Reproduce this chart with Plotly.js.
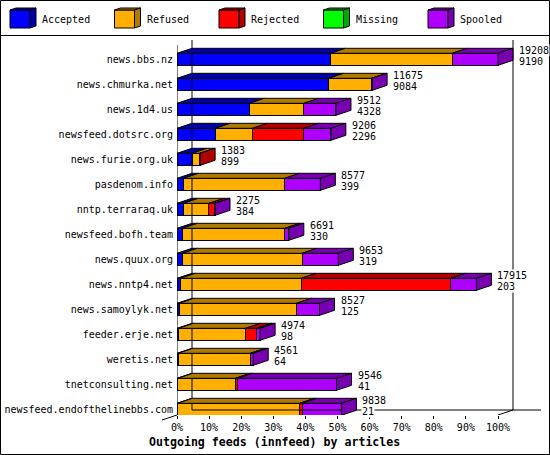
<!DOCTYPE html>
<html><head><meta charset="utf-8">
<script src="https://cdn.plot.ly/plotly-3.0.1.min.js"></script>
<style>html,body{margin:0;padding:0;background:#fff}#chart{width:550px;height:455px}</style>
</head><body><div id="chart"></div>
<script>
const hosts = ["news.bbs.nz","news.chmurka.net","news.1d4.us","newsfeed.dotsrc.org","news.furie.org.uk","pasdenom.info","nntp.terraraq.uk","newsfeed.bofh.team","news.quux.org","news.nntp4.net","news.samoylyk.net","feeder.erje.net","weretis.net","tnetconsulting.net","newsfeed.endofthelinebbs.com"];
const offered  = [19208,11675,9512,9206,1383,8577,2275,6691,9653,17915,8527,4974,4561,9546,9838];
const accepted = [9190,9084,4328,2296,899,399,384,330,319,203,125,98,64,41,21];
const refused  = [7278,2541,3260,2220,455,6040,1530,6121,7163,7217,7020,4010,4317,3447,7318];
const rejected = [0,0,0,3060,29,0,350,0,0,8950,0,665,0,138,144];
const missing  = [0,0,0,0,0,0,0,0,0,0,0,0,0,0,0];
const spooled  = [2740,50,1924,1630,0,2138,11,240,2171,1545,1382,201,180,5920,2355];
const seriesNames = ["Accepted","Refused","Rejected","Missing","Spooled"];
const tickPercents = [0,10,20,30,40,50,60,70,80,90,100];
const xTitle = "Outgoing feeds (innfeed) by articles";

const frontColors = ["#0000ff","#ffaf00","#ff0000","#00ff00","#af00ff"];
const darkColors  = ["#0000a8","#b07a00","#b00000","#00a800","#7800b0"];
const FONT = "DejaVu Sans Mono";

const W=550, H=455, L=177, R=5, T=40, B=40;
const plotW = W-L-R, plotH = H-T-B;
const fullPx = 321;               // pixel length of 100%
const series = [accepted, refused, rejected, missing, spooled];
const totals = hosts.map((h,i)=>series.reduce((s,a)=>s+a[i],0));
const maxTotal = Math.max(...totals);
const xMax = maxTotal*plotW/fullPx;
const rowPx = plotH/hosts.length;
const yTop = -19.3/rowPx, yBot = yTop + hosts.length;
const dx = 15/fullPx*maxTotal, dy = 5/rowPx, bw = 12/rowPx;
const ppx = p => (p-L)/plotW, ppy = p => (H-B-p)/plotH;

const traces = series.map((arr,k)=>({
  type:'bar', orientation:'h', name:seriesNames[k],
  y: hosts.map((_,i)=>i), x: arr.map(v=>v>0?v:null),
  width: bw, marker:{color:frontColors[k], line:{color:'#000', width:1}},
  hoverinfo:'none', showlegend:false
}));

const shapes = [];
const ln = {color:'#000', width:1};
// frame
shapes.push({type:'rect', xref:'paper', yref:'paper', x0:ppx(0.5), x1:ppx(549.5), y0:ppy(0.5), y1:ppy(454.5), line:ln});
shapes.push({type:'line', xref:'paper', yref:'paper', x0:ppx(0), x1:ppx(550), y0:ppy(35.5), y1:ppy(35.5), line:ln});
// walls
shapes.push({type:'line', xref:'x', yref:'y', x0:0, x1:0, y0:yBot, y1:yTop+dy, line:ln});
shapes.push({type:'line', xref:'x', yref:'y', x0:dx, x1:dx, y0:yTop, y1:yBot-dy, line:ln});
shapes.push({type:'line', xref:'x', yref:'y', x0:maxTotal+dx, x1:maxTotal+dx, y0:yTop, y1:yBot-dy, line:ln});
shapes.push({type:'line', xref:'x', yref:'y', x0:dx, x1:maxTotal*(541-L)/fullPx, y0:yBot-dy, y1:yBot-dy, line:ln});
shapes.push({type:'line', xref:'x', yref:'y', x0:maxTotal, x1:maxTotal+dx, y0:yBot, y1:yBot-dy, line:ln});
shapes.push({type:'line', xref:'paper', yref:'paper', x0:-dx/xMax, x1:0, y0:-dy/hosts.length, y1:0, line:ln});

// 3D faces
hosts.forEach((h,i)=>{
  let cum = 0, last = -1;
  const yt = i - bw/2, yb = i + bw/2;
  series.forEach((arr,k)=>{
    const v = arr[i];
    if(v<=0) return;
    const x0 = cum, x1 = cum+v;
    shapes.push({type:'path', xref:'x', yref:'y', layer:'above',
      path:`M${x0},${yt} L${x1},${yt} L${x1+dx},${yt-dy} L${x0+dx},${yt-dy} Z`,
      fillcolor:darkColors[k], line:ln});
    cum = x1; last = k;
  });
  if(last>=0){
    shapes.push({type:'path', xref:'x', yref:'y', layer:'above',
      path:`M${cum},${yt} L${cum+dx},${yt-dy} L${cum+dx},${yb-dy} L${cum},${yb} Z`,
      fillcolor:darkColors[last], line:ln});
  }
});

const annotations = [];
hosts.forEach((h,i)=>{
  const base = {xref:'x', yref:'y', x:totals[i]+dx, y:i, xanchor:'left', yanchor:'middle',
    showarrow:false, xshift:5, borderpad:0, bgcolor:'#fff', font:{family:FONT, size:10, color:'#000'}};
  annotations.push(Object.assign({}, base, {text:String(offered[i]), yshift:8.5}));
  annotations.push(Object.assign({}, base, {text:String(accepted[i]), yshift:-2}));
});
// legend
seriesNames.forEach((n,k)=>{
  const x0 = 10 + k*104.5;
  shapes.push({type:'rect', xref:'paper', yref:'paper', x0:ppx(x0), x1:ppx(x0+20), y0:ppy(10), y1:ppy(28), fillcolor:frontColors[k], line:ln});
  shapes.push({type:'path', xref:'paper', yref:'paper', fillcolor:darkColors[k], line:ln,
    path:`M${ppx(x0)},${ppy(10)} L${ppx(x0+20)},${ppy(10)} L${ppx(x0+26)},${ppy(8)} L${ppx(x0+6)},${ppy(8)} Z`});
  shapes.push({type:'path', xref:'paper', yref:'paper', fillcolor:darkColors[k], line:ln,
    path:`M${ppx(x0+20)},${ppy(10)} L${ppx(x0+26)},${ppy(8)} L${ppx(x0+26)},${ppy(26)} L${ppx(x0+20)},${ppy(28)} Z`});
  annotations.push({xref:'paper', yref:'paper', x:ppx(x0+31), y:ppy(19.5), xanchor:'left', yanchor:'middle',
    showarrow:false, text:n, borderpad:0, font:{family:FONT, size:10, color:'#000'}});
});
annotations.push({xref:'paper', yref:'paper', x:ppx(274.5), y:ppy(441.5), xanchor:'center', yanchor:'middle',
  showarrow:false, text:xTitle, font:{family:FONT, size:11.6, color:'#000', weight:'bold'}});

const layout = {
  width:W, height:H, margin:{l:L, r:R, t:T, b:B, pad:0},
  paper_bgcolor:'#fff', plot_bgcolor:'#fff', barmode:'stack', showlegend:false,
  xaxis:{range:[0,xMax], tickvals:tickPercents.map(p=>maxTotal*p/100), ticktext:tickPercents.map(p=>p+'%'),
    ticks:'outside', ticklen:3, tickcolor:'#000', showgrid:false, zeroline:false, showline:false,
    tickfont:{family:FONT, size:10, color:'#000'}, fixedrange:true},
  yaxis:{range:[yBot,yTop], tickvals:hosts.map((_,i)=>i), ticktext:hosts, ticks:'', ticklabelstandoff:3,
    showgrid:false, zeroline:false, showline:false, tickfont:{family:FONT, size:10, color:'#000'}, fixedrange:true},
  shapes, annotations
};
Plotly.newPlot('chart', traces, layout, {displayModeBar:false, staticPlot:true});
</script></body></html>
